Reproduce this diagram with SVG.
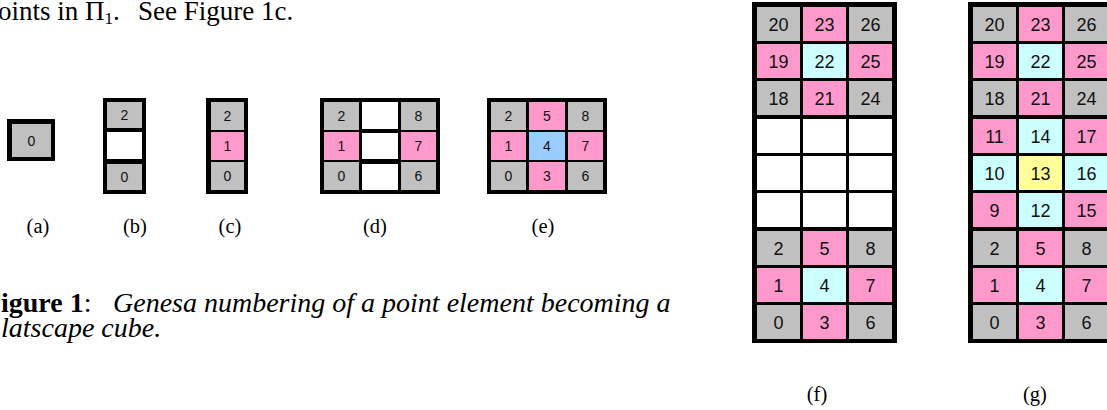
<svg xmlns="http://www.w3.org/2000/svg" width="1107" height="410" viewBox="0 0 1107 410">
<style>
.bg{fill:#000}
.g{fill:#C0C0C0}
.p{fill:#FF99CC}
.c{fill:#CCFFFF}
.b{fill:#99CCFF}
.y{fill:#FFFF99}
.w{fill:#FFFFFF}
.n{font-family:"Liberation Sans",Arial,sans-serif;font-size:14px;fill:#111;text-anchor:middle}
.N{font-family:"Liberation Sans",Arial,sans-serif;font-size:18px;fill:#111;text-anchor:middle}
.lab{font-family:"Liberation Serif","Times New Roman",serif;font-size:20.5px;fill:#000;text-anchor:middle}
.body{font-family:"Liberation Serif","Times New Roman",serif;font-size:27px;fill:#000}
.cap{font-family:"Liberation Serif","Times New Roman",serif;font-size:28px;fill:#000}
</style>
<rect width="1107" height="410" fill="#fff"/>

<g id="bodytext">
<text class="body" x="-2" y="20">oints in Π<tspan font-size="17" dy="4">1</tspan><tspan dy="-4">.</tspan><tspan x="138">See Figure 1c.</tspan></text>
</g>

<g id="caption">
<text class="cap" x="1" y="312"><tspan font-weight="bold">igure 1</tspan>:<tspan x="113" font-style="italic">Genesa numbering of a point element becoming a</tspan></text>
<text class="cap" x="1" y="337" font-style="italic">latscape cube.</text>
</g>

<g id="fig-a">
<rect class="bg" x="7" y="119" width="48" height="42"/>
<rect class="g" x="12" y="124" width="39" height="33"/>
<text class="n" x="31.5" y="145.5">0</text>
<text class="lab" x="38" y="233">(a)</text>
</g>

<g id="fig-b">
<rect class="bg" x="103" y="98" width="43" height="96"/>
<rect class="g" x="107" y="102" width="35" height="26"/>
<rect class="w" x="107" y="132" width="35" height="27"/>
<rect class="g" x="107" y="164" width="35" height="26"/>
<text class="n" x="124.5" y="120">2</text>
<text class="n" x="124.5" y="182">0</text>
<text class="lab" x="135" y="233">(b)</text>
</g>

<g id="fig-c">
<rect class="bg" x="206" y="98" width="42" height="96"/>
<rect class="g" x="211" y="102" width="33" height="28"/>
<rect class="p" x="211" y="132" width="33" height="28"/>
<rect class="g" x="211" y="162" width="33" height="28"/>
<text class="n" x="227.5" y="121">2</text>
<text class="n" x="227.5" y="151">1</text>
<text class="n" x="227.5" y="181">0</text>
<text class="lab" x="230" y="233">(c)</text>
</g>

<g id="fig-d">
<rect class="bg" x="320" y="98" width="120" height="96"/>
<rect class="g" x="324" y="102" width="35" height="28"/>
<rect class="p" x="324" y="132" width="35" height="28"/>
<rect class="g" x="324" y="162" width="35" height="28"/>
<rect class="w" x="362" y="102" width="36" height="27"/>
<rect class="w" x="362" y="133" width="36" height="26"/>
<rect class="w" x="362" y="164" width="36" height="26"/>
<rect class="g" x="401" y="102" width="35" height="28"/>
<rect class="p" x="401" y="132" width="35" height="28"/>
<rect class="g" x="401" y="162" width="35" height="28"/>
<text class="n" x="341.5" y="121">2</text>
<text class="n" x="341.5" y="151">1</text>
<text class="n" x="341.5" y="181">0</text>
<text class="n" x="418.5" y="121">8</text>
<text class="n" x="418.5" y="151">7</text>
<text class="n" x="418.5" y="181">6</text>
<text class="lab" x="375" y="233">(d)</text>
</g>

<g id="fig-e">
<rect class="bg" x="487" y="98" width="120" height="96"/>
<rect class="g" x="491" y="102" width="35" height="28"/>
<rect class="p" x="491" y="132" width="35" height="28"/>
<rect class="g" x="491" y="162" width="35" height="28"/>
<rect class="p" x="529" y="102" width="36" height="28"/>
<rect class="b" x="529" y="132" width="36" height="28"/>
<rect class="p" x="529" y="162" width="36" height="28"/>
<rect class="g" x="568" y="102" width="35" height="28"/>
<rect class="p" x="568" y="132" width="35" height="28"/>
<rect class="g" x="568" y="162" width="35" height="28"/>
<text class="n" x="508.5" y="121">2</text>
<text class="n" x="508.5" y="151">1</text>
<text class="n" x="508.5" y="181">0</text>
<text class="n" x="547" y="121">5</text>
<text class="n" x="547" y="151">4</text>
<text class="n" x="547" y="181">3</text>
<text class="n" x="585.5" y="121">8</text>
<text class="n" x="585.5" y="151">7</text>
<text class="n" x="585.5" y="181">6</text>
<text class="lab" x="543" y="233">(e)</text>
</g>

<g id="fig-f">
<rect class="bg" x="752" y="2" width="145" height="341"/>
<rect class="g" x="757" y="7" width="43" height="34"/><rect class="p" x="803" y="7" width="43" height="34"/><rect class="g" x="849" y="7" width="43" height="34"/>
<rect class="p" x="757" y="44" width="43" height="34"/><rect class="c" x="803" y="44" width="43" height="34"/><rect class="p" x="849" y="44" width="43" height="34"/>
<rect class="g" x="757" y="81" width="43" height="34"/><rect class="p" x="803" y="81" width="43" height="34"/><rect class="g" x="849" y="81" width="43" height="34"/>
<rect class="w" x="757" y="119" width="43" height="34"/><rect class="w" x="803" y="119" width="43" height="34"/><rect class="w" x="849" y="119" width="43" height="34"/>
<rect class="w" x="757" y="156" width="43" height="34"/><rect class="w" x="803" y="156" width="43" height="34"/><rect class="w" x="849" y="156" width="43" height="34"/>
<rect class="w" x="757" y="193" width="43" height="34"/><rect class="w" x="803" y="193" width="43" height="34"/><rect class="w" x="849" y="193" width="43" height="34"/>
<rect class="g" x="757" y="231" width="43" height="34"/><rect class="p" x="803" y="231" width="43" height="34"/><rect class="g" x="849" y="231" width="43" height="34"/>
<rect class="p" x="757" y="268" width="43" height="34"/><rect class="c" x="803" y="268" width="43" height="34"/><rect class="p" x="849" y="268" width="43" height="34"/>
<rect class="g" x="757" y="305" width="43" height="34"/><rect class="p" x="803" y="305" width="43" height="34"/><rect class="g" x="849" y="305" width="43" height="34"/>
<text class="N" x="778.5" y="30.5">20</text><text class="N" x="824.5" y="30.5">23</text><text class="N" x="870.5" y="30.5">26</text>
<text class="N" x="778.5" y="67.5">19</text><text class="N" x="824.5" y="67.5">22</text><text class="N" x="870.5" y="67.5">25</text>
<text class="N" x="778.5" y="104.5">18</text><text class="N" x="824.5" y="104.5">21</text><text class="N" x="870.5" y="104.5">24</text>
<text class="N" x="778.5" y="254.5">2</text><text class="N" x="824.5" y="254.5">5</text><text class="N" x="870.5" y="254.5">8</text>
<text class="N" x="778.5" y="291.5">1</text><text class="N" x="824.5" y="291.5">4</text><text class="N" x="870.5" y="291.5">7</text>
<text class="N" x="778.5" y="328.5">0</text><text class="N" x="824.5" y="328.5">3</text><text class="N" x="870.5" y="328.5">6</text>
<text class="lab" x="817" y="401">(f)</text>
</g>

<g id="fig-g">
<rect class="bg" x="968" y="2" width="145" height="341"/>
<rect class="g" x="973" y="7" width="43" height="34"/><rect class="p" x="1019" y="7" width="43" height="34"/><rect class="g" x="1065" y="7" width="43" height="34"/>
<rect class="p" x="973" y="44" width="43" height="34"/><rect class="c" x="1019" y="44" width="43" height="34"/><rect class="p" x="1065" y="44" width="43" height="34"/>
<rect class="g" x="973" y="81" width="43" height="34"/><rect class="p" x="1019" y="81" width="43" height="34"/><rect class="g" x="1065" y="81" width="43" height="34"/>
<rect class="p" x="973" y="119" width="43" height="34"/><rect class="c" x="1019" y="119" width="43" height="34"/><rect class="p" x="1065" y="119" width="43" height="34"/>
<rect class="c" x="973" y="156" width="43" height="34"/><rect class="y" x="1019" y="156" width="43" height="34"/><rect class="c" x="1065" y="156" width="43" height="34"/>
<rect class="p" x="973" y="193" width="43" height="34"/><rect class="c" x="1019" y="193" width="43" height="34"/><rect class="p" x="1065" y="193" width="43" height="34"/>
<rect class="g" x="973" y="231" width="43" height="34"/><rect class="p" x="1019" y="231" width="43" height="34"/><rect class="g" x="1065" y="231" width="43" height="34"/>
<rect class="p" x="973" y="268" width="43" height="34"/><rect class="c" x="1019" y="268" width="43" height="34"/><rect class="p" x="1065" y="268" width="43" height="34"/>
<rect class="g" x="973" y="305" width="43" height="34"/><rect class="p" x="1019" y="305" width="43" height="34"/><rect class="g" x="1065" y="305" width="43" height="34"/>
<text class="N" x="994.5" y="30.5">20</text><text class="N" x="1040.5" y="30.5">23</text><text class="N" x="1086.5" y="30.5">26</text>
<text class="N" x="994.5" y="67.5">19</text><text class="N" x="1040.5" y="67.5">22</text><text class="N" x="1086.5" y="67.5">25</text>
<text class="N" x="994.5" y="104.5">18</text><text class="N" x="1040.5" y="104.5">21</text><text class="N" x="1086.5" y="104.5">24</text>
<text class="N" x="994.5" y="142.5">11</text><text class="N" x="1040.5" y="142.5">14</text><text class="N" x="1086.5" y="142.5">17</text>
<text class="N" x="994.5" y="179.5">10</text><text class="N" x="1040.5" y="179.5">13</text><text class="N" x="1086.5" y="179.5">16</text>
<text class="N" x="994.5" y="216.5">9</text><text class="N" x="1040.5" y="216.5">12</text><text class="N" x="1086.5" y="216.5">15</text>
<text class="N" x="994.5" y="254.5">2</text><text class="N" x="1040.5" y="254.5">5</text><text class="N" x="1086.5" y="254.5">8</text>
<text class="N" x="994.5" y="291.5">1</text><text class="N" x="1040.5" y="291.5">4</text><text class="N" x="1086.5" y="291.5">7</text>
<text class="N" x="994.5" y="328.5">0</text><text class="N" x="1040.5" y="328.5">3</text><text class="N" x="1086.5" y="328.5">6</text>
<text class="lab" x="1035" y="401">(g)</text>
</g>
</svg>
